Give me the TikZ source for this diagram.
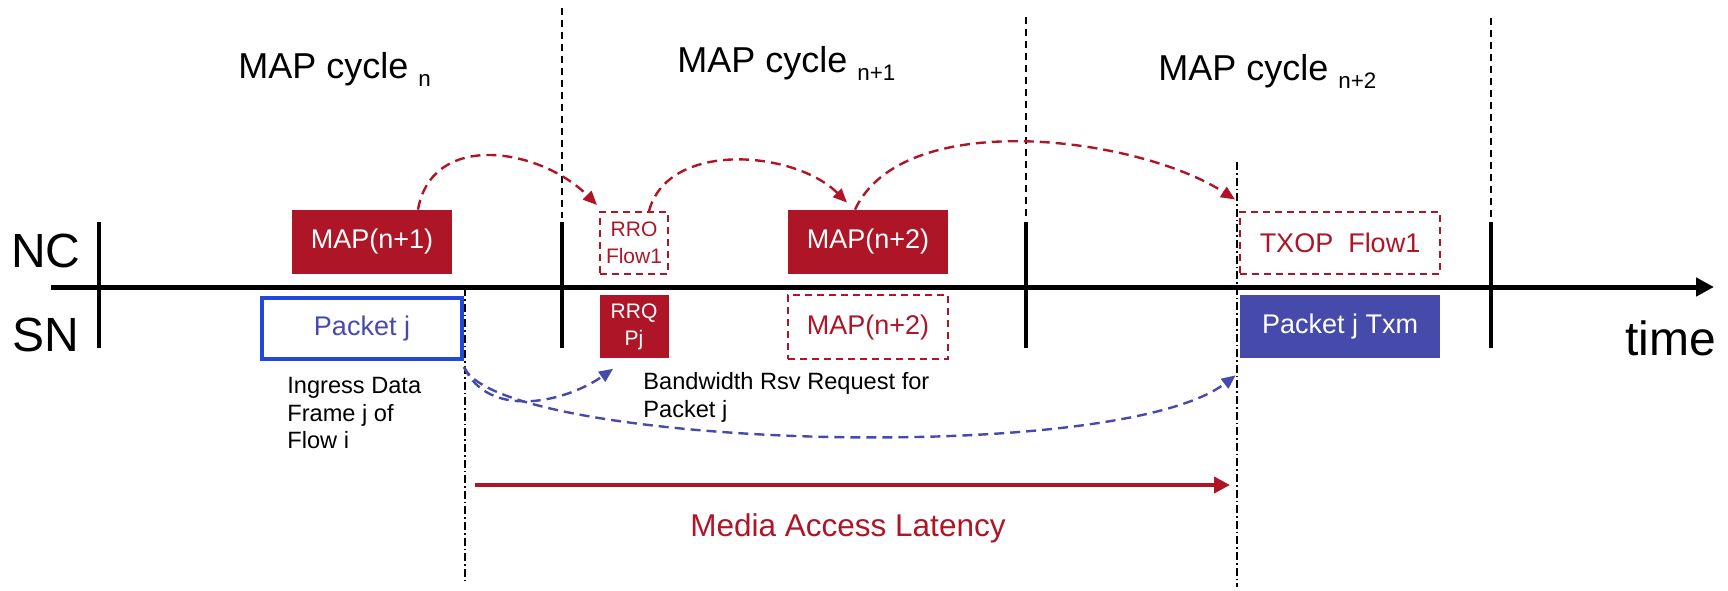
\documentclass[tikz,border=0pt]{standalone}
\usepackage{fontspec}
\setmainfont{Liberation Sans}
\usetikzlibrary{arrows.meta}
\usetikzlibrary{positioning}
\definecolor{mapred}{RGB}{174,22,40}
\definecolor{txblue}{RGB}{70,74,170}
\definecolor{pktblue}{RGB}{32,72,218}
\newcommand{\cyclesub}[1]{\raisebox{-4.2pt}{\fontsize{11.2}{13}\selectfont #1}}
\tikzset{
	lanetext/.style={font=\fontsize{24}{28}\selectfont, inner sep=0},
	cycletext/.style={font=\fontsize{18}{21}\selectfont, anchor=base west, inner sep=0},
	mapbox/.style={rectangle, fill=mapred, text=white, inner sep=0, minimum width=80pt, minimum height=32pt, font=\fontsize{13.5}{16}\selectfont},
	dashbox/.style={rectangle, draw=mapred, line width=1pt, dash pattern=on 3.5pt off 2.5pt, text=mapred, inner sep=0, align=center, font=\fontsize{13.5}{16}\selectfont},
	pktbox/.style={rectangle, draw=pktblue, line width=2pt, text=txblue, inner sep=0, font=\fontsize{13.5}{16}\selectfont},
	txbox/.style={rectangle, fill=txblue, text=white, inner sep=0, font=\fontsize{13.5}{16}\selectfont},
	smallbox/.style={minimum width=34.5pt, minimum height=31.5pt, align=center, font=\fontsize{10.5}{13.5}\selectfont},
	notetext/.style={anchor=north west, align=left, inner sep=0, font=\fontsize{11.8}{13.75}\selectfont},
	slot/.style={line width=2.2pt},
	cycleline/.style={line width=0.8pt, dash pattern=on 3.5pt off 2.5pt},
	refline/.style={line width=0.8pt, dash pattern=on 4pt off 1.5pt on 0.8pt off 1.5pt},
	timeaxis/.style={line width=2.5pt, -{Triangle[length=9pt,width=9pt]}},
	redarc/.style={color=mapred, line width=1.2pt, dash pattern=on 5pt off 3pt, -{Triangle[length=7pt,width=6pt]}},
	bluearc/.style={color=txblue, line width=1.2pt, dash pattern=on 5pt off 3pt, -{Triangle[length=7pt,width=6pt]}},
	latency/.style={color=mapred, line width=2pt, -{Triangle[length=8pt,width=8pt]}}
}
\begin{document}
\begin{tikzpicture}[x=0.5pt, y=0.5pt]
\useasboundingbox (0,0) rectangle (1728,-590);

\node[cycletext] (cyclen) at (238,-78) {MAP cycle \cyclesub{n}};
\node[cycletext] (cyclen1) at (677,-72) {MAP cycle \cyclesub{n+1}};
\node[cycletext] (cyclen2) at (1158,-80) {MAP cycle \cyclesub{n+2}};

\foreach \x/\y in {562/8, 1026/17, 1491/18}
	\draw[cycleline] (\x,-\y) -- (\x,-218);
\foreach \x in {99, 562, 1026, 1491}
	\draw[slot] (\x,-222) -- (\x,-348);

\coordinate (axstart) at (51,-287);
\coordinate (axend) at (1714,-287);
\draw[timeaxis] (axstart) -- (axend);

\node[lanetext] (nc) at (46,-251) {NC};
\node[lanetext] (sn) at (46,-334.5) {SN};
\node[lanetext, anchor=base west] (timelabel) at (1625,-355) {time};

\node[mapbox] (map1) at (372,-242) {MAP(n+1)};
\node[pktbox, minimum width=100pt, minimum height=30.5pt] (pkt) at (362,-328.5) {Packet j};
\node[notetext] (ingress) at (287,-377) {Ingress Data\\Frame j of\\Flow i};

\node[dashbox, smallbox, minimum width=34pt, minimum height=31pt] (rro) at (634,-243) {RRO\\Flow1};
\node[mapbox, smallbox, below=10pt of rro] (rrq) {RRQ\\Pj};
\node[notetext] (bwreq) at (643,-372) {Bandwidth Rsv Request for\\Packet j};

\node[mapbox] (map2) at (868,-242) {MAP(n+2)};
\node[dashbox, minimum width=80pt, minimum height=32pt, below=10pt of map2] (map2sn) {MAP(n+2)};

\node[dashbox, minimum width=100pt, minimum height=31pt] (txop) at (1340,-242.5) {TXOP~~Flow1};
\node[txbox, minimum width=100pt, minimum height=31.5pt, below=10pt of txop] (txm) {Packet j Txm};

\draw[refline] (465,-288) -- (465,-583);
\draw[refline] (1237,-162) -- (1237,-587);

\draw[redarc] ([xshift=23pt]map1.north) to[out=80, in=135, looseness=1.15] ([shift={(-1pt,3pt)}]rro.north west);
\draw[redarc] ([xshift=7.5pt]rro.north) to[out=75, in=135, looseness=0.95] ([shift={(-10.5pt,3.5pt)}]map2.north);
\draw[redarc] ([xshift=-6.5pt]map2.north) to[out=65, in=147, looseness=0.77] ([shift={(-2pt,5.5pt)}]txop.north west);

\draw[bluearc] ([yshift=-3pt]pkt.south east) to[out=-65, in=-145] ([shift={(7pt,-5pt)}]rrq.south west);
\draw[bluearc] ([yshift=-3pt]pkt.south east) .. controls +(35,-80) and +(-120,-92) .. ([shift={(-2pt,-8.5pt)}]txm.south west);

\coordinate (latstart) at (475,-485);
\coordinate (latend) at (1230,-485);
\draw[latency] (latstart) -- (latend);
\node[font=\fontsize{15.75}{18}\selectfont, text=mapred, inner sep=0] (latlabel) at (848,-528) {Media Access Latency};

\end{tikzpicture}
\end{document}
